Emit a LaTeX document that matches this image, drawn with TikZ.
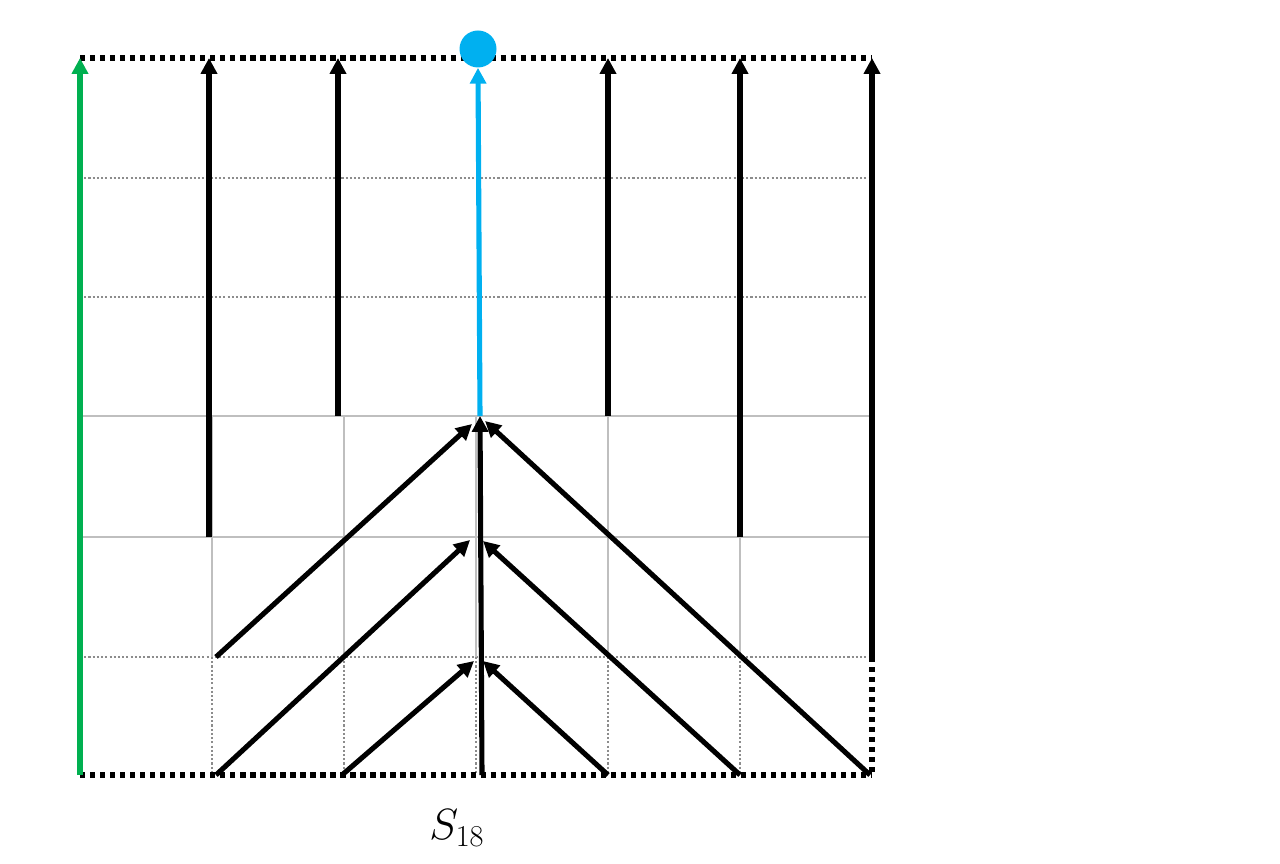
\documentclass[tikz,border=0pt]{standalone}
\usepackage{amsmath}
\usetikzlibrary{arrows.meta}
\definecolor{skyblue}{RGB}{0,176,240}
\definecolor{leafgreen}{RGB}{0,176,80}
\tikzstyle{flow} = [line width=2.9pt, -{Triangle[width=9pt,length=9pt]}]
\tikzstyle{border} = [black, line width=3pt, dash pattern=on 3pt off 2.7pt]
\tikzstyle{gridline} = [black!25, line width=0.9pt]
\tikzstyle{griddots} = [black!45, line width=0.9pt, dash pattern=on 1.2pt off 1.2pt]

\begin{document}
\begin{tikzpicture}[x=0.02cm,y=-0.02cm]
    \useasboundingbox (0,0) rectangle (1280,864);
    % grid
    \draw[griddots] (80,178) -- (872,178) (80,297) -- (872,297) (80,657) -- (872,657);
    \draw[gridline] (80,416) -- (872,416) (80,537) -- (872,537);
    \foreach \x in {212,344,476,608,740} {
        \draw[gridline] (\x,416) -- (\x,657);
        \draw[griddots] (\x,657) -- (\x,775);
    }
    \draw[border] (80,58) -- (872,58);
    \draw[border] (80,775) -- (872,775);
    \draw[border] (872,657) -- (872,775);
    % end points
    \coordinate (g0) at (80,775);   \coordinate (t0) at (80,58);
    \coordinate (b1) at (209,537);  \coordinate (t1) at (209,58);
    \coordinate (b2) at (338,416);  \coordinate (t2) at (338,58);
    \coordinate (b4) at (608,416);  \coordinate (t4) at (608,58);
    \coordinate (b5) at (740,537);  \coordinate (t5) at (740,58);
    \coordinate (b6) at (872,657);  \coordinate (t6) at (872,58);
    \coordinate (root) at (480,416);
    \coordinate (stem) at (482,775);
    \coordinate (apexL) at (472,424);  \coordinate (apexR) at (485,421);
    \coordinate (midL) at (470,540);   \coordinate (midR) at (483,541);
    \coordinate (lowL) at (474,661);   \coordinate (lowR) at (483,661);
    \coordinate (s1) at (216,657);  \coordinate (s2) at (216,775);
    \coordinate (s3) at (342,775);  \coordinate (s4) at (608,775);
    \coordinate (s5) at (740,775);  \coordinate (s6) at (870,775);
    \node[circle, fill=skyblue, minimum size=0.74cm, inner sep=0pt] (goal) at (478,49) {};
    % arrows
    \draw[flow, leafgreen] (g0) -- (t0);
    \draw[flow] (b1) -- (t1);
    \draw[flow] (b2) -- (t2);
    \draw[flow] (b4) -- (t4);
    \draw[flow] (b5) -- (t5);
    \draw[flow] (b6) -- (t6);
    \draw[flow, skyblue] (root) -- (goal.south);
    \draw[flow] (stem) -- (root);
    \draw[flow] (s1) -- (apexL);
    \draw[flow] (s6) -- (apexR);
    \draw[flow] (s2) -- (midL);
    \draw[flow] (s5) -- (midR);
    \draw[flow] (s3) -- (lowL);
    \draw[flow] (s4) -- (lowR);
    \node[font=\fontsize{25}{30}\selectfont] (label) at (457,828) {$S_{\mathrm{18}}$};
\end{tikzpicture}
\end{document}
